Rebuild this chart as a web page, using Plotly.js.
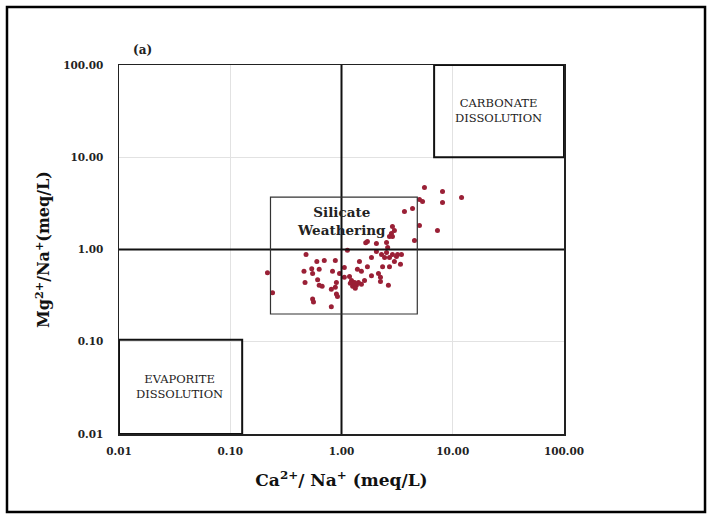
<!DOCTYPE html>
<html>
<head>
<meta charset="utf-8">
<script src="https://cdn.plot.ly/plotly-3.0.1.min.js"></script>
<style>
  html, body { margin: 0; padding: 0; background: #fff; }
  #chart { width: 712px; height: 522px; }
</style>
</head>
<body>
<div id="chart"></div>
<script>
// Ca2+/Na+ ratio (meq/L) for each sample
const caNa = [
  5.57, 8.09, 12.0, 8.09, 5.02, 5.35, 3.68, 4.35, 5.02, 7.29,
  4.53, 2.87, 2.99, 2.81, 2.70, 1.71, 2.06, 2.54, 1.13, 2.06,
  2.29, 2.54, 2.87, 3.19, 3.46, 2.44, 2.70, 3.12, 3.39, 2.34,
  2.70, 1.71, 1.39, 1.51, 0.48, 0.60, 0.70, 0.88, 0.46, 0.54,
  0.55, 0.63, 0.83, 0.96, 1.06, 1.18, 1.23, 1.31, 1.36, 1.26,
  1.42, 1.51, 1.61, 1.86, 2.15, 2.24, 2.24, 2.64, 0.47, 0.61,
  0.63, 0.67, 0.90, 0.88, 0.81, 0.90, 0.92, 0.55, 0.56, 0.81,
  0.216, 0.24, 1.06, 1.86, 1.45, 2.99, 2.87, 1.65, 1.29, 1.33,
  1.20, 2.60
];
// Mg2+/Na+ ratio (meq/L) for each sample
const mgNa = [
  4.70, 4.25, 3.66, 3.23, 3.48, 3.31, 2.58, 2.78, 1.82, 1.61,
  1.25, 1.78, 1.61, 1.49, 1.38, 1.22, 1.16, 1.19, 0.98, 0.95,
  0.88, 0.93, 0.88, 0.88, 0.88, 0.82, 0.82, 0.84, 0.69, 0.65,
  0.65, 0.65, 0.61, 0.58, 0.88, 0.74, 0.76, 0.76, 0.58, 0.62,
  0.55, 0.61, 0.58, 0.55, 0.50, 0.51, 0.46, 0.44, 0.41, 0.40,
  0.44, 0.42, 0.46, 0.52, 0.55, 0.50, 0.45, 0.41, 0.44, 0.47,
  0.41, 0.40, 0.44, 0.39, 0.37, 0.33, 0.31, 0.29, 0.27, 0.24,
  0.56, 0.34, 0.64, 0.82, 0.74, 0.74, 1.38, 1.18, 0.42, 0.38,
  0.43, 1.05
];
// Axis ticks
const tickValues = [0.01, 0.1, 1, 10, 100];
const tickLabels = ['0.01', '0.10', '1.00', '10.00', '100.00'];
// Process fields (x range, y range in meq/L ratios)
const silicateX = [0.23, 4.8];
const silicateY = [0.2, 3.7];
const carbonateX = [6.8, 100];
const carbonateY = [10, 100];
const evaporiteX = [0.01, 0.128];
const evaporiteY = [0.01, 0.105];

const serif = 'DejaVu Serif';

const trace = {
  x: caNa, y: mgNa, type: 'scatter', mode: 'markers',
  marker: { color: '#9a2036', size: 5 },
  hoverinfo: 'x+y', showlegend: false
};

function boxShape(xs, ys, color, width) {
  return { type: 'rect', xref: 'x', yref: 'y', x0: xs[0], x1: xs[1], y0: ys[0], y1: ys[1],
           line: { color: color, width: width }, layer: 'above' };
}

const axisBase = {
  type: 'log', tickvals: tickValues, ticktext: tickLabels,
  showgrid: true, gridcolor: '#e2e2e2', gridwidth: 1, zeroline: false,
  showline: true, mirror: true, linecolor: '#222', linewidth: 1.5,
  ticks: '', tickfont: { family: serif, size: 10.5, color: '#222', weight: 'bold' }
};

const layout = {
  width: 712, height: 522,
  margin: { l: 119, r: 148, t: 65, b: 88 },
  paper_bgcolor: '#fff', plot_bgcolor: '#fff',
  xaxis: Object.assign({}, axisBase, {
    range: [-2, 2], ticklabelstandoff: 7,
    title: { text: 'Ca<sup>2+</sup>/ Na<sup>+</sup> (meq/L)', standoff: 18,
             font: { family: serif, size: 17, color: '#111', weight: 'bold' } }
  }),
  yaxis: Object.assign({}, axisBase, {
    range: [-2, 2], ticklabelstandoff: 12,
    title: { text: 'Mg<sup>2+</sup>/Na<sup>+</sup>(meq/L)', standoff: 9,
             font: { family: serif, size: 16, color: '#111', weight: 'bold' } }
  }),
  shapes: [
    { type: 'line', xref: 'x', yref: 'paper', x0: 1, x1: 1, y0: 0, y1: 1, line: { color: '#111', width: 2 } },
    { type: 'line', xref: 'paper', yref: 'y', x0: 0, x1: 1, y0: 1, y1: 1, line: { color: '#111', width: 2 } },
    boxShape(silicateX, silicateY, '#333', 1.2),
    boxShape(carbonateX, carbonateY, '#111', 2),
    boxShape(evaporiteX, evaporiteY, '#111', 2),
    { type: 'rect', xref: 'paper', yref: 'paper', x0: -0.2517, x1: 1.3169, y0: -0.2114, y1: 1.1572,
      line: { color: '#000', width: 2.5 } }
  ],
  annotations: [
    { xref: 'x', yref: 'y', x: 0, y: Math.log10(2.05), text: 'Silicate<br>Weathering', showarrow: false,
      font: { family: serif, size: 13.5, color: '#222', weight: 'bold' } },
    { xref: 'x', yref: 'y', x: Math.log10(26), y: Math.log10(32), text: 'CARBONATE<br>DISSOLUTION', showarrow: false,
      font: { family: serif, size: 11.5, color: '#222' } },
    { xref: 'x', yref: 'y', x: Math.log10(0.0353), y: Math.log10(0.0327), text: 'EVAPORITE<br>DISSOLUTION', showarrow: false,
      font: { family: serif, size: 11.5, color: '#222' } },
    { xref: 'paper', yref: 'paper', x: 0.052, y: 1.04, xanchor: 'center', yanchor: 'middle', text: '(a)', showarrow: false,
      font: { family: serif, size: 12, color: '#222', weight: 'bold' } }
  ]
};

Plotly.newPlot('chart', [trace], layout, { displayModeBar: false, staticPlot: true });
</script>
</body>
</html>
